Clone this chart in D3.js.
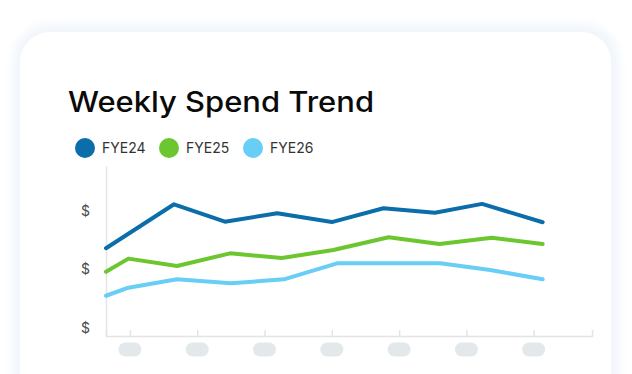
<!DOCTYPE html>
<html>
<head>
<meta charset="utf-8">
<script src="https://cdn.jsdelivr.net/npm/d3@7"></script>
<style>
  html, body { margin: 0; padding: 0; background: #fff; }
  svg { display: block; }
</style>
</head>
<body>
<svg id="chart" width="632" height="374"></svg>
<script>
// data (x = day offset, y = spend, arbitrary units)
const seriesNames = ["FYE24", "FYE25", "FYE26"];
const seriesColors = ["#0b6eab", "#6cc62f", "#68cef6"];

const fye24X = [0, 9.1, 15.9, 22.9, 30.2, 37.1, 44.0, 50.3, 58.4];
const fye24Y = [44.9, 67.4, 58.5, 62.8, 58.3, 65.4, 63.1, 67.6, 58.2];

const fye25X = [0, 3.0, 9.5, 16.6, 23.5, 30.4, 37.8, 44.6, 51.6, 58.4];
const fye25Y = [32.9, 39.6, 35.8, 42.3, 39.9, 44.0, 50.5, 47.1, 50.3, 47.1];

const fye26X = [0, 3.0, 9.5, 16.7, 23.8, 30.9, 37.7, 44.7, 51.4, 58.4];
const fye26Y = [20.6, 24.7, 29.0, 27.0, 29.0, 37.2, 37.2, 37.2, 33.8, 29.0];

const xTicks = [3.2, 12.2, 21.2, 30.2, 39.2, 48.2, 57.2];
const yTicks = [0, 30, 60];

const svg = d3.select("#chart");

// soft card shadow
const defs = svg.append("defs");
defs.append("filter")
  .attr("id", "soft")
  .attr("x", "-10%").attr("y", "-10%")
  .attr("width", "120%").attr("height", "120%")
  .append("feGaussianBlur")
  .attr("stdDeviation", 5);

svg.append("rect")
  .attr("x", 13).attr("y", 24)
  .attr("width", 606).attr("height", 400)
  .attr("rx", 36)
  .attr("fill", "#f1f6fb")
  .attr("filter", "url(#soft)");
svg.append("rect")
  .attr("x", 20).attr("y", 32)
  .attr("width", 591).attr("height", 380)
  .attr("rx", 30)
  .attr("fill", "#fff");

svg.append("text")
  .attr("x", 68).attr("y", 112)
  .attr("font-family", "Inter, sans-serif")
  .attr("font-size", 28)
  .attr("font-weight", 500)
  .attr("fill", "#0a0a0a")
  .attr("textLength", 306)
  .attr("lengthAdjust", "spacingAndGlyphs")
  .text("Weekly Spend Trend");

// legend
const legend = svg.append("g")
  .selectAll("g")
  .data(seriesNames)
  .enter().append("g")
  .attr("transform", (d, i) => `translate(${85 + i * 84},148)`);
legend.append("circle")
  .attr("r", 10)
  .attr("fill", (d, i) => seriesColors[i]);
legend.append("text")
  .attr("x", 17).attr("y", 5)
  .attr("font-family", "Inter, sans-serif")
  .attr("font-size", 14)
  .attr("fill", "#333")
  .text(d => d);

const x = d3.scaleLinear().domain([0, 65]).range([106, 592]);
const y = d3.scaleLinear().domain([0, 87]).range([336, 166]);

// axes
const gx = svg.append("g")
  .attr("transform", `translate(0,${y(0)})`)
  .call(d3.axisBottom(x).tickValues(xTicks).tickSize(-6).tickFormat(""));
gx.select(".domain").attr("stroke", "#e4e4e4").attr("stroke-width", 1.5);
gx.selectAll(".tick line").attr("stroke", "#e4e4e4").attr("stroke-width", 1.5);

// placeholder pills for hidden x labels
svg.append("g")
  .selectAll("rect")
  .data(xTicks)
  .enter().append("rect")
  .attr("x", d => x(d) - 11.5)
  .attr("y", 342.5)
  .attr("width", 23).attr("height", 14)
  .attr("rx", 7)
  .attr("fill", "#e3e8eb");

const gy = svg.append("g")
  .attr("transform", `translate(${x(0)},0)`)
  .call(d3.axisLeft(y).tickValues(yTicks).tickSize(0).tickFormat(() => "$"));
gy.select(".domain").attr("stroke", "#e4e4e4").attr("stroke-width", 1.5);
gy.selectAll(".tick text")
  .attr("x", -16)
  .attr("dy", "-0.25em")
  .attr("font-family", "Inter, sans-serif")
  .attr("font-size", 14)
  .attr("fill", "#4a4a4a");

// lines
const series = [
  fye24X.map((d, i) => [d, fye24Y[i]]),
  fye25X.map((d, i) => [d, fye25Y[i]]),
  fye26X.map((d, i) => [d, fye26Y[i]])
];
const line = d3.line().x(d => x(d[0])).y(d => y(d[1]));

svg.append("g")
  .selectAll("path")
  .data(series)
  .enter().append("path")
  .attr("d", line)
  .attr("fill", "none")
  .attr("stroke", (d, i) => seriesColors[i])
  .attr("stroke-width", 4)
  .attr("stroke-linecap", "round")
  .attr("stroke-linejoin", "round");
</script>
</body>
</html>
